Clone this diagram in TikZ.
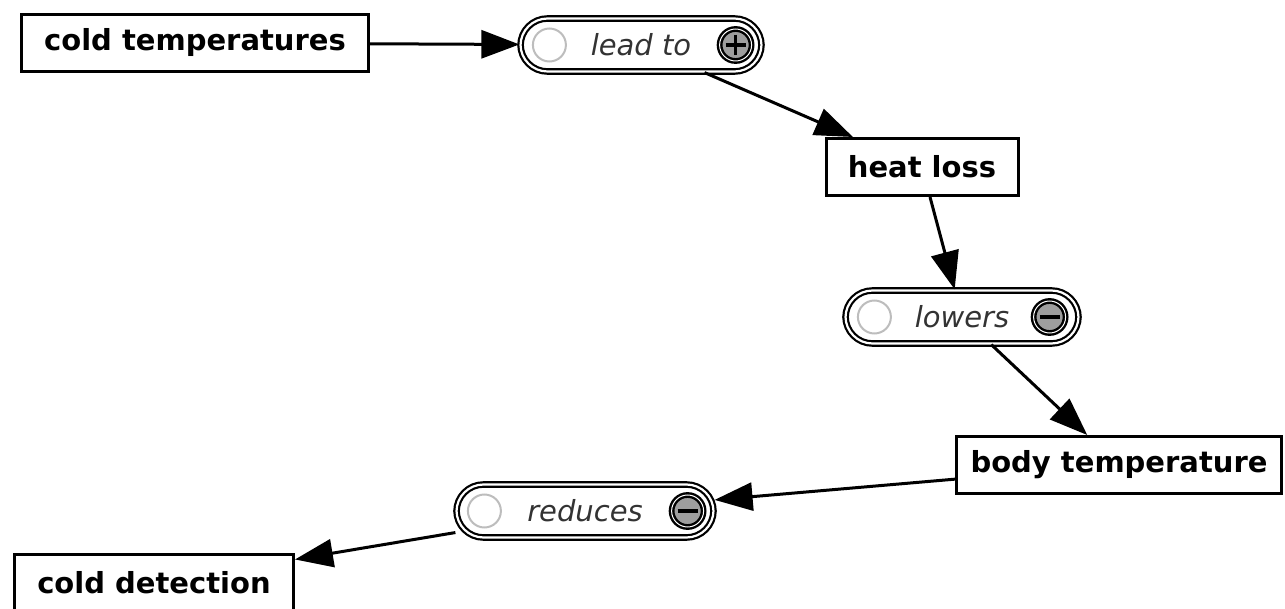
\documentclass[tikz,border=0pt]{standalone}
\usepackage{fontspec}
\setmainfont{DejaVu Sans}
\usetikzlibrary{arrows.meta,positioning}
\definecolor{labelgrey}{HTML}{333333}
\definecolor{signfill}{HTML}{9E9E9E}
\definecolor{ringgrey}{HTML}{BDBDBD}

\begin{document}
\begin{tikzpicture}[x=1pt, y=-1pt,
  concept/.style={draw, line width=3pt, minimum height=57pt, minimum width=#1, inner sep=0pt, fill=white, font=\fontsize{29}{34}\selectfont\bfseries},
  link/.style={draw, line width=2.2pt, double=white, double distance=2.2pt, rounded corners=27pt, minimum height=53pt, minimum width=#1, inner sep=0pt, fill=white, text=labelgrey, font=\fontsize{29}{34}\selectfont\itshape},
  opencirc/.style={circle, draw=ringgrey, line width=2pt, minimum size=33pt, inner sep=0pt},
  signcirc/.style={circle, draw, line width=2.4pt, double=white, double distance=1pt, fill=signfill, minimum size=32pt, inner sep=0pt},
  plussign/.style={signcirc, path picture={
      \draw[line width=3.5pt] (path picture bounding box.center) ++(-10,0) -- ++(20,0);
      \draw[line width=3.5pt] (path picture bounding box.center) ++(0,-10) -- ++(0,20);}},
  minussign/.style={signcirc, path picture={
      \draw[line width=3.5pt] (path picture bounding box.center) ++(-10,0) -- ++(20,0);}},
  arrow/.style={-{Triangle[length=38pt,width=28pt]}, line width=3pt},
]
\useasboundingbox (0,0) rectangle (1285,609);

% concepts
\node[concept=347pt] (coldtemp) at (195,43) {cold temperatures};
\node[concept=192pt] (heatloss) at (922,167) {heat loss};
\node[concept=325pt] (bodytemp) at (1119,465) {body temperature};
\node[concept=279pt] (colddetect) at (154,583) {cold detection};

% linking phrases
\node[link=241pt] (leadto) at (641,45) {lead to};
\node[opencirc] (leadtoA) at ([xshift=30pt]leadto.west) {};
\node[plussign] (leadtoB) at ([xshift=-27pt]leadto.east) {};

\node[link=233pt] (lowers) at (962,317) {lowers};
\node[opencirc] (lowersA) at ([xshift=30pt]lowers.west) {};
\node[minussign] (lowersB) at ([xshift=-30pt]lowers.east) {};

\node[link=257pt] (reduces) at (585,511) {reduces};
\node[opencirc] (reducesA) at ([xshift=29pt]reduces.west) {};
\node[minussign] (reducesB) at ([xshift=-27pt]reduces.east) {};

% connections
\draw[arrow] (coldtemp) -- (leadto);
\draw[arrow] (leadto) -- (heatloss);
\draw[arrow] (heatloss) -- (lowers);
\draw[arrow] (lowers) -- (bodytemp);
\draw[arrow] (bodytemp) -- (reduces);
\draw[arrow] (reduces) -- (colddetect);
\end{tikzpicture}
\end{document}
